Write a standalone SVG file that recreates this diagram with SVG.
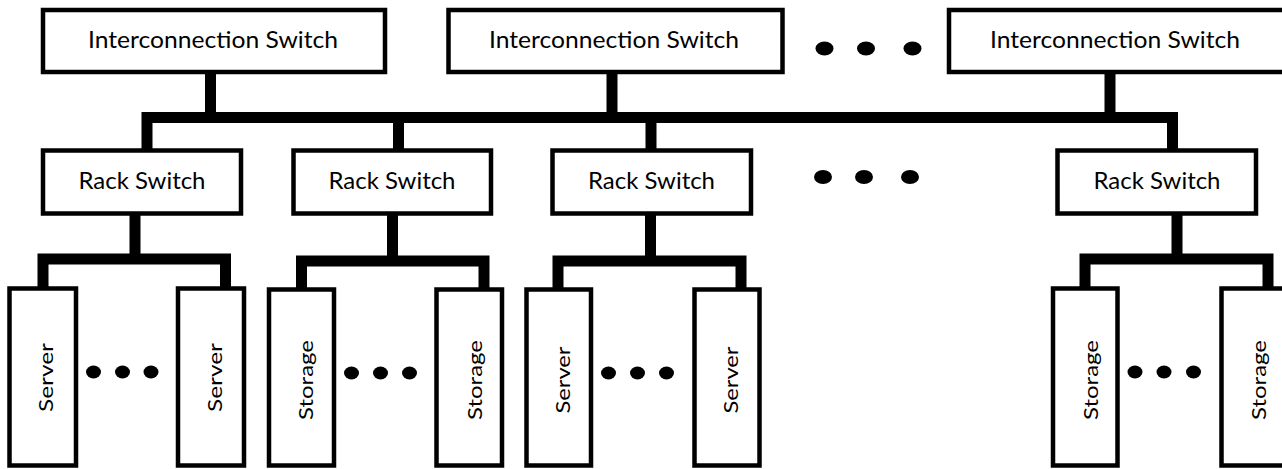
<svg xmlns="http://www.w3.org/2000/svg" width="1282" height="469" viewBox="0 0 1282 469">
<style>
.box{fill:#fff;stroke:#000;stroke-width:4.5}
.lbl{font-family:Lato,"Open Sans","Liberation Sans",sans-serif;font-size:23px;fill:#000;text-anchor:middle}
.vl{font-family:Lato,"Open Sans","Liberation Sans",sans-serif;font-size:19px;fill:#000;text-anchor:middle}
.bus{fill:none;stroke:#000;stroke-width:11;stroke-linejoin:miter;stroke-linecap:butt}
.dot{fill:#000}
</style>
<rect width="1282" height="469" fill="#fff"/>
<g id="connectors">
<path class="bus" d="M147 151V117.5H1172.5V152"/>
<path class="bus" d="M210.5 74V117.5M612 74V117.5M1110 74V117.5M398.5 117.5V151M651 117.5V151"/>
<path class="bus" d="M135 214V259M43 288V259H225.5V288"/>
<path class="bus" d="M392.5 214V261M301.5 288V261H484V288"/>
<path class="bus" d="M650.5 214V261M558 288V261H741V288"/>
<path class="bus" d="M1177 214V259M1085 288V259H1268V288"/>
</g>
<g id="ic1"><rect class="box" x="43" y="10" width="342" height="62"/><text class="lbl" x="213" y="48" textLength="250" lengthAdjust="spacingAndGlyphs">Interconnection Switch</text></g>
<g id="ic2"><rect class="box" x="448.5" y="10" width="334" height="62"/><text class="lbl" x="614" y="48" textLength="250" lengthAdjust="spacingAndGlyphs">Interconnection Switch</text></g>
<g id="ic3"><rect class="box" x="949" y="10" width="340" height="62"/><text class="lbl" x="1115" y="48" textLength="250" lengthAdjust="spacingAndGlyphs">Interconnection Switch</text></g>
<g id="dots-top"><ellipse class="dot" cx="824.5" cy="48.5" rx="9" ry="7"/><ellipse class="dot" cx="866" cy="48.5" rx="9" ry="7"/><ellipse class="dot" cx="912.5" cy="48.5" rx="9" ry="7"/></g>
<g id="rack1"><rect class="box" x="43" y="150.5" width="198" height="63"/><text class="lbl" x="142" y="189" textLength="127" lengthAdjust="spacingAndGlyphs">Rack Switch</text></g>
<g id="rack2"><rect class="box" x="293.5" y="150.5" width="197.5" height="63"/><text class="lbl" x="392" y="189" textLength="127" lengthAdjust="spacingAndGlyphs">Rack Switch</text></g>
<g id="rack3"><rect class="box" x="552.5" y="150.5" width="198.5" height="63"/><text class="lbl" x="651.5" y="189" textLength="127" lengthAdjust="spacingAndGlyphs">Rack Switch</text></g>
<g id="rack4"><rect class="box" x="1057.5" y="150.5" width="198.5" height="63"/><text class="lbl" x="1157" y="189" textLength="127" lengthAdjust="spacingAndGlyphs">Rack Switch</text></g>
<g id="dots-mid"><ellipse class="dot" cx="823" cy="177" rx="9" ry="7"/><ellipse class="dot" cx="864" cy="177" rx="9" ry="7"/><ellipse class="dot" cx="910" cy="177" rx="9" ry="7"/></g>
<g id="server1"><rect class="box" x="9.5" y="288.5" width="66.5" height="177"/><text class="vl" transform="translate(53 377.5) rotate(-90)" textLength="69" lengthAdjust="spacingAndGlyphs">Server</text></g>
<g id="server2"><rect class="box" x="178" y="288.5" width="66" height="177"/><text class="vl" transform="translate(221.5 377.5) rotate(-90)" textLength="69" lengthAdjust="spacingAndGlyphs">Server</text></g>
<g id="dots-r1"><ellipse class="dot" cx="93.5" cy="372" rx="7.5" ry="6.5"/><ellipse class="dot" cx="122.5" cy="372" rx="7.5" ry="6.5"/><ellipse class="dot" cx="151" cy="372" rx="7.5" ry="6.5"/></g>
<g id="storage1"><rect class="box" x="269" y="289.5" width="65" height="176"/><text class="vl" transform="translate(313 380) rotate(-90)" textLength="80" lengthAdjust="spacingAndGlyphs">Storage</text></g>
<g id="storage2"><rect class="box" x="436.5" y="289.5" width="65.5" height="176"/><text class="vl" transform="translate(481.5 380) rotate(-90)" textLength="80" lengthAdjust="spacingAndGlyphs">Storage</text></g>
<g id="dots-r2"><ellipse class="dot" cx="351.5" cy="373" rx="7.5" ry="6.5"/><ellipse class="dot" cx="380.5" cy="373" rx="7.5" ry="6.5"/><ellipse class="dot" cx="409.5" cy="373" rx="7.5" ry="6.5"/></g>
<g id="server3"><rect class="box" x="526.5" y="289.5" width="64.5" height="176"/><text class="vl" transform="translate(570 380) rotate(-90)" textLength="67" lengthAdjust="spacingAndGlyphs">Server</text></g>
<g id="server4"><rect class="box" x="694.5" y="289.5" width="65" height="176"/><text class="vl" transform="translate(738 380) rotate(-90)" textLength="67" lengthAdjust="spacingAndGlyphs">Server</text></g>
<g id="dots-r3"><ellipse class="dot" cx="608.5" cy="373" rx="7.5" ry="6.5"/><ellipse class="dot" cx="637.5" cy="373" rx="7.5" ry="6.5"/><ellipse class="dot" cx="666.5" cy="373" rx="7.5" ry="6.5"/></g>
<g id="storage3"><rect class="box" x="1053" y="288.5" width="64.5" height="177"/><text class="vl" transform="translate(1098 380) rotate(-90)" textLength="80" lengthAdjust="spacingAndGlyphs">Storage</text></g>
<g id="storage4"><rect class="box" x="1221.5" y="288.5" width="70" height="177"/><text class="vl" transform="translate(1265.5 380) rotate(-90)" textLength="80" lengthAdjust="spacingAndGlyphs">Storage</text></g>
<g id="dots-r4"><ellipse class="dot" cx="1135" cy="372" rx="7.5" ry="6.5"/><ellipse class="dot" cx="1164" cy="372" rx="7.5" ry="6.5"/><ellipse class="dot" cx="1193.5" cy="372" rx="7.5" ry="6.5"/></g>
</svg>
